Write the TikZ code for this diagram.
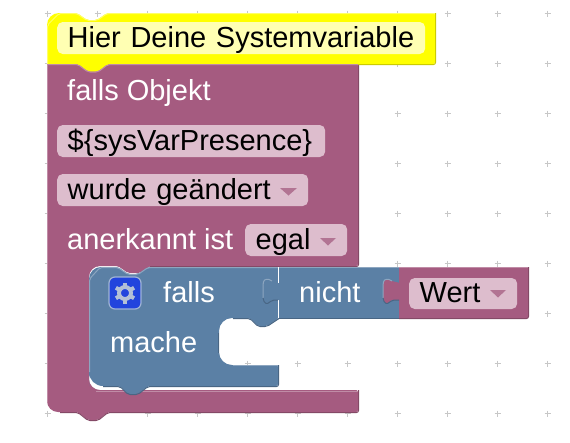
\documentclass[tikz,border=0pt]{standalone}
\usepackage{fontspec}
\setmainfont{Liberation Sans}
\usepackage{xcolor}
\usepackage{tikz}
\usetikzlibrary{calc}

\definecolor{pinkblock}{HTML}{A55B80}
\definecolor{pinklight}{HTML}{C08CA6}
\definecolor{pinkdark}{HTML}{844966}
\definecolor{pinkfield}{HTML}{DDBDCD}
\definecolor{blueblock}{HTML}{5B80A5}
\definecolor{bluelight}{HTML}{8DA6C0}
\definecolor{bluedark}{HTML}{496684}
\definecolor{yellowblock}{HTML}{FFFF00}
\definecolor{yellowlight}{HTML}{FFFF66}
\definecolor{yellowdark}{HTML}{CCCC00}
\definecolor{yellowfield}{HTML}{FFFFB3}
\definecolor{iconblue}{HTML}{2244DD}
\definecolor{iconedge}{HTML}{9FB3D6}
\definecolor{geargrey}{HTML}{B4C0D6}

\begin{document}
\begin{tikzpicture}[
  x=1pt, y=-1pt,
  gridplus/.style={draw=black!22, line width=1.1pt},
  lighten/.style={line width=1pt, rounded corners=2pt},
  label/.style={text=white, anchor=base west, inner sep=0pt, font=\fontsize{29}{32}\selectfont},
  field/.style={fill=pinkfield, rounded corners=5.5pt, anchor=base west, align=left, inner ysep=0pt, inner xsep=10.5pt,
    text height=25pt, text depth=7pt, font=\fontsize{29}{32}\selectfont},
  dropdown/.style={fill=pinkblock!85!white},
  iconbox/.style={draw=iconedge, line width=1.2pt, fill=iconblue, rounded corners=6pt, minimum size=32pt, inner sep=0pt},
  gearpart/.style={draw=geargrey}
]
  \useasboundingbox (0,0) rectangle (570,442);
  \fill[white] (0,0) rectangle (570,442);

  \foreach \x in {47.5,97.5,...,547.5}
    \foreach \y in {13.5,63.5,...,413.5} {
      \draw[gridplus] (\x-3,\y) -- (\x+3,\y);
      \draw[gridplus] (\x,\y-3) -- (\x,\y+3);
    }

  % outer block
  \fill[pinkblock, rounded corners=2pt] (47,60) -- (358,60) -- (358,266) -- (150,266) -- (140,273) -- (128,273) -- (118,266)
    [rounded corners=11pt] -- (89,266) -- (89,390) [rounded corners=2pt] -- (358,390) -- (358,412) -- (108,412)
    -- (98,420) -- (88,420) -- (78,412) [rounded corners=11pt] -- (47,412) [sharp corners] -- cycle;
  \draw[lighten, pinklight] (47.5,60) -- (47.5,402);
  \draw[lighten, pinklight] (96,391) -- (358,391);
  \draw[lighten, pinkdark] (358.5,60) -- (358.5,266.5) -- (150,266.5);
  \draw[lighten, pinkdark] (358.5,390) -- (358.5,412.5) -- (108,412.5) -- (98,420.5) -- (88,420.5) -- (78,412.5) -- (60,412.5);

  % yellow block
  \fill[yellowblock] (47,64) [rounded corners=12pt] -- (47,13) [rounded corners=2pt] -- (77,13) -- (87,20) -- (97,20) -- (107,13)
    -- (435,13) -- (435,64) -- (108,64) -- (98,71.5) -- (88,71.5) -- (78,64) [sharp corners] -- cycle;
  \draw[lighten, yellowlight] (47.5,64) -- (47.5,25) -- (59,13.5) -- (77,13.5) -- (87,20.5) -- (97,20.5) -- (107,13.5) -- (435,13.5);
  \draw[lighten, yellowdark] (435.5,13) -- (435.5,64.5) -- (358,64.5);
  \draw[lighten, pinklight] (358,64.5) -- (108,64.5) -- (98,72) -- (88,72) -- (78,64.5) -- (47,64.5);

  % value blocks
  \fill[blueblock] (279,267) rectangle (399,318);
  \draw[lighten, bluelight] (279,267.5) -- (399,267.5);
  \draw[lighten, bluedark] (279,318.5) -- (399,318.5);
  \fill[pinkblock] (399,267) rectangle (528,318);
  \draw[lighten, pinklight] (399,267.5) -- (528,267.5);
  \draw[lighten, pinkdark] (528.5,267) -- (528.5,318.5) -- (399,318.5);
  \fill[pinkblock] (400,283) -- (392,281) .. controls (388,278) and (384,279) .. (383,284) -- (383,298)
    .. controls (384,304) and (387,305) .. (392,300) -- (400,300) -- cycle;
  \draw[lighten, bluelight] (392,281) .. controls (388,278) and (384,279) .. (383,284) -- (383,298);
  \draw[lighten, bluedark] (383,298) .. controls (384,304) and (387,305) .. (392,300) -- (399,300);

  % statement block
  \fill[blueblock] (89,386) [rounded corners=12pt] -- (89,267) [rounded corners=2pt] -- (118,267) -- (128,274) -- (138,274) -- (148,267)
    -- (279,267) -- (279,318) -- (267,326) -- (258,326) -- (250,318) [rounded corners=13pt] -- (219,318) -- (219,365)
    [rounded corners=2pt] -- (278,365) -- (278,386) -- (148,386) -- (138,394) -- (128,394) -- (120,386) [rounded corners=14pt] -- (89,386) [sharp corners] -- cycle;
  \draw[lighten, bluelight] (89.5,372) -- (89.5,279) -- (100,267.5) -- (118,267.5) -- (128,274.5) -- (138,274.5) -- (148,267.5) -- (279,267.5);
  \draw[lighten, bluedark] (279,318.5) -- (267,326.5) -- (258,326.5) -- (250,318.5) -- (233,318.5);
  \draw[lighten, bluedark] (218.5,333) -- (218.5,353);
  \draw[lighten, bluelight] (233,365.5) -- (278,365.5);
  \draw[lighten, bluedark] (278.5,365) -- (278.5,386.5) -- (148,386.5) -- (138,394.5) -- (128,394.5) -- (120,386.5) -- (103,386.5);
  \draw[lighten, white] (278.8,267) -- (278.8,283);
  \draw[lighten, white] (278.8,300) -- (278.8,318);
  \draw[lighten, bluelight] (272,281) .. controls (268,278) and (264,279) .. (263,284) -- (263,298);
  \draw[lighten, bluedark] (263,298) .. controls (264,304) and (267,305) .. (272,300) -- (278,300);

  \node[field, fill=yellowfield, text width=347pt] (varname) at (57,47) {\mbox{Hier Deine Systemvariable}};
  \node[label] (object) at (67,100) {falls Objekt};
  \node[field, text width=247pt] (sysvar) at (57,150) {\$\{sysVarPresence\}};
  \node[field, text width=230pt] (changed) at (57,199) {wurde geändert};
  \node[label] (ack) at (67,249) {anerkannt ist};
  \node[field, text width=81pt] (egal) at (245,249) {egal};
  \node[iconbox] (icon) at (125,293) {};
  \node[label] (falls) at (163,302) {falls};
  \node[label] (nicht) at (299,302) {nicht};
  \node[field, text width=87pt, text height=24pt, text depth=7pt] (wert) at (409,302) {Wert};
  \node[label] (mache) at (110,352) {mache};

  \fill[dropdown] (280,188) -- (297,188) -- (288.5,195.5) -- cycle;
  \fill[dropdown] (320,238) -- (336,238) -- (328,245.5) -- cycle;
  \fill[dropdown] (490,290) -- (506,290) -- (498,297.5) -- cycle;

  \draw[gearpart, line width=4pt] (icon) circle (6pt);
  \foreach \a in {30,90,...,330}
    \draw[gearpart, line width=4pt] ($(icon)+(\a:7pt)$) -- ($(icon)+(\a:10.5pt)$);
\end{tikzpicture}
\end{document}
